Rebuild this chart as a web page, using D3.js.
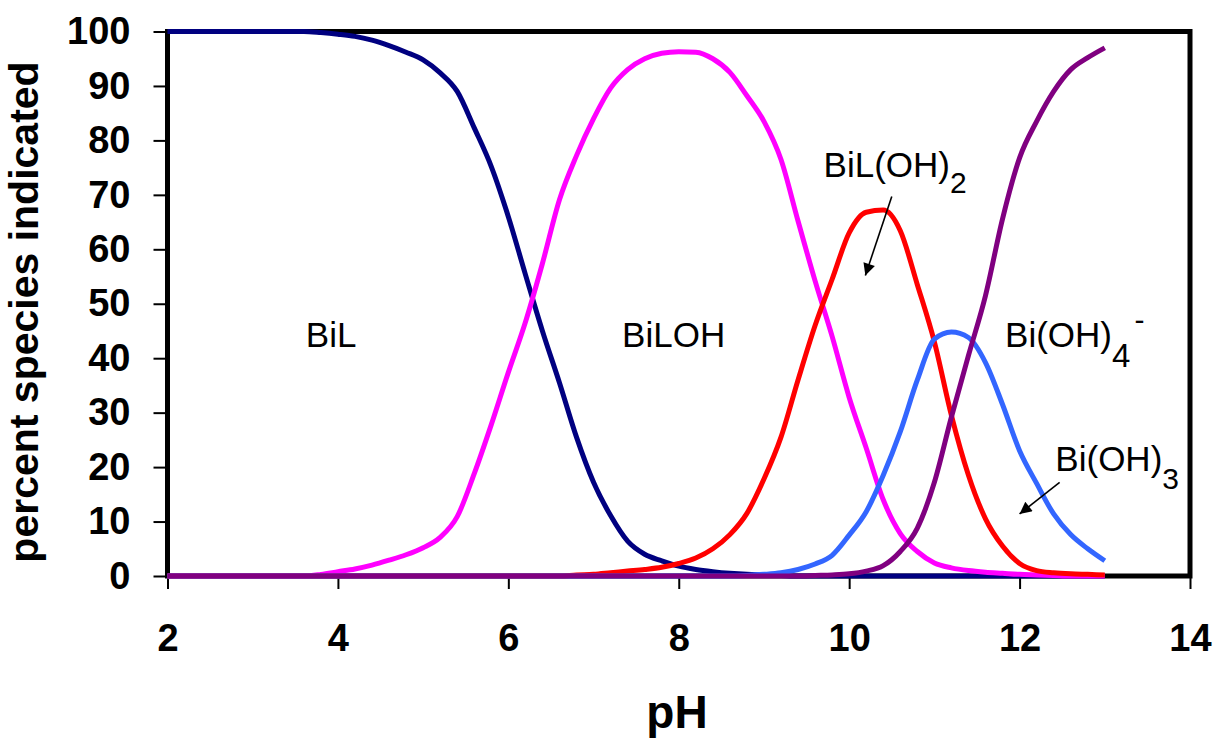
<!DOCTYPE html>
<html>
<head>
<meta charset="utf-8">
<script src="https://cdn.jsdelivr.net/npm/d3@7"></script>
<style>
    body { margin: 0; background: #ffffff; }
    svg  { display: block; }
    text { font-family: 'Liberation Sans', Arial, sans-serif; }
</style>
</head>
<body>
<div id="graph"></div>
<script>

var pH = [ 2.0, 2.2, 2.4, 2.6, 2.8, 3.0, 3.2, 3.4, 3.6, 3.8,
           4.0, 4.2, 4.4, 4.6, 4.8, 5.0, 5.2, 5.4, 5.6, 5.8,
           6.0, 6.2, 6.4, 6.6, 6.8, 7.0, 7.2, 7.4, 7.6, 7.8,
           8.0, 8.2, 8.4, 8.6, 8.8, 9.0, 9.2, 9.4, 9.6, 9.8,
          10.0,10.2,10.4,10.6,10.8,11.0,11.2,11.4,11.6,11.8,
          12.0,12.2,12.4,12.6,12.8,13.0 ];

// percent of each species
var BiL      = [ 100, 100, 100, 100, 100, 100, 100, 100, 100, 99.8,
                 99.5, 99.1, 98.4, 97.4, 96.2, 94.8, 92.4, 89, 82.3, 75.2,
                 66, 55.4, 45, 35.5, 25.5, 17.2, 11.1, 6.4, 4, 2.8,
                 1.8, 1.2, 0.8, 0.5, 0.3, 0.2, 0.1, 0, 0, 0,
                 0, 0, 0, 0, 0, 0, 0, 0, 0, 0,
                 0, 0, 0, 0, 0, 0 ];

var BiLOH    = [ 0, 0, 0, 0, 0, 0, 0, 0, 0, 0.3,
                 0.8, 1.3, 2.0, 2.9, 3.9, 5.2, 7.1, 10.9, 18.8, 27.8,
                 37.4, 46.6, 57.4, 69.1, 77.2, 84, 89.6, 93, 95, 96,
                 96.3, 96.2, 95, 92.5, 88.2, 83.5, 76.5, 65.2, 54.2, 44,
                 32.8, 23.5, 14, 7.8, 4.5, 2.4, 1.5, 1.0, 0.7, 0.5,
                 0.3, 0.2, 0.1, 0, 0, 0 ];

var BiLOH2   = [ 0, 0, 0, 0, 0, 0, 0, 0, 0, 0,
                 0, 0, 0, 0, 0, 0, 0, 0, 0, 0,
                 0, 0, 0, 0, 0.2, 0.3, 0.6, 0.9, 1.2, 1.6,
                 2.3, 3.3, 5.0, 7.6, 11.5, 17.8, 25.5, 36, 46, 54.5,
                 63, 66.8, 67.2, 63.4, 53.5, 43, 29.5, 18.5, 10.5, 5.5,
                 2.3, 1.0, 0.6, 0.4, 0.3, 0.2 ];

var BiOH3    = [ 0, 0, 0, 0, 0, 0, 0, 0, 0, 0,
                 0, 0, 0, 0, 0, 0, 0, 0, 0, 0,
                 0, 0, 0, 0, 0, 0, 0, 0, 0, 0,
                 0, 0, 0, 0, 0.1, 0.3, 0.6, 1.2, 2.2, 3.8,
                 7.5, 11.8, 18.5, 26.5, 36, 43.5, 44.8, 43.8, 39.2, 31.5,
                 23, 17, 11.4, 7.6, 5, 2.8 ];

var BiOH4    = [ 0, 0, 0, 0, 0, 0, 0, 0, 0, 0,
                 0, 0, 0, 0, 0, 0, 0, 0, 0, 0,
                 0, 0, 0, 0, 0, 0, 0, 0, 0, 0,
                 0, 0, 0, 0, 0, 0, 0, 0, 0.1, 0.2,
                 0.4, 0.9, 1.9, 4.5, 8.8, 17.2, 29.2, 40.5, 51.5, 65.6,
                 76.8, 83.5, 89, 93, 95.2, 97 ];

var xTicks = [ 2, 4, 6, 8, 10, 12, 14 ];
var yTicks = [ 0, 10, 20, 30, 40, 50, 60, 70, 80, 90, 100 ];


function D3Chart ()
{
    var width  = 1215;
    var height = 738;

    // plot frame in page pixels
    var frame = { left: 167.5, right: 1190, top: 31.5, bottom: 576 };

    // drawing order matters: later curves lie on top
    var series = [
        { values: BiL,    colour: '#000080' },
        { values: BiLOH,  colour: '#ff00ff' },
        { values: BiLOH2, colour: '#ff0000' },
        { values: BiOH3,  colour: '#3366ff' },
        { values: BiOH4,  colour: '#800080' }
    ];

    var svg = d3.select ('#graph').append ('svg')
                .attr ('width', width)
                .attr ('height', height);

    var xScale = d3.scaleLinear ()
                   .domain ( [ 2, 14 ] )
                   .range ( [ frame.left, frame.right ] );

    var yScale = d3.scaleLinear ()
                   .domain ( [ 0, 100 ] )
                   .range ( [ frame.bottom, frame.top ] );

    // axes
    var xAxis = d3.axisBottom (xScale)
                  .tickValues (xTicks)
                  .tickSize (13)
                  .tickPadding (35)
                  .tickFormat (d3.format ('d'));

    var yAxis = d3.axisLeft (yScale)
                  .tickValues (yTicks)
                  .tickSize (14)
                  .tickPadding (23)
                  .tickFormat (d3.format ('d'));

    var gx = svg.append ('g')
                .attr ('transform', 'translate(0,' + frame.bottom + ')')
                .call (xAxis);

    var gy = svg.append ('g')
                .attr ('transform', 'translate(' + frame.left + ',0)')
                .call (yAxis);

    [ gx, gy ].forEach (function (g)
    {
        g.select ('.domain').remove ();
        g.selectAll ('line').attr ('stroke', '#000').attr ('stroke-width', 2);
        g.selectAll ('text')
         .attr ('fill', '#000')
         .style ('font-family', "'Liberation Sans', Arial, sans-serif")
         .style ('font-size', '38px')
         .style ('font-weight', 'bold');
    });

    // frame round the plot
    svg.append ('rect')
       .attr ('x', frame.left)
       .attr ('y', frame.top)
       .attr ('width', frame.right - frame.left)
       .attr ('height', frame.bottom - frame.top)
       .attr ('fill', 'none')
       .attr ('stroke', '#000')
       .attr ('stroke-width', 5);

    // curves
    var line = d3.line ()
                 .x (function (d, i) { return xScale (pH[i]); })
                 .y (function (d)    { return yScale (d); })
                 .curve (d3.curveMonotoneX);

    svg.selectAll ('path.species')
       .data (series)
       .enter ()
       .append ('path')
       .attr ('class', 'species')
       .attr ('d', function (s) { return line (s.values); })
       .attr ('fill', 'none')
       .attr ('stroke', function (s) { return s.colour; })
       .attr ('stroke-width', 5)
       .attr ('stroke-linejoin', 'round');

    // axis titles
    svg.append ('text')
       .attr ('transform', 'translate(38,312) rotate(-90)')
       .attr ('text-anchor', 'middle')
       .style ('font-size', '41px')
       .style ('font-weight', 'bold')
       .text ('percent species indicated');

    svg.append ('text')
       .attr ('x', 677)
       .attr ('y', 728)
       .attr ('text-anchor', 'middle')
       .style ('font-size', '46px')
       .style ('font-weight', 'bold')
       .text ('pH');

    // species labels, placed in data coordinates
    function label (x, y, anchor)
    {
        return svg.append ('text')
                  .attr ('x', xScale (x))
                  .attr ('y', yScale (y))
                  .attr ('text-anchor', anchor)
                  .style ('font-size', '35px');
    }

    label (3.92, 42, 'middle').text ('BiL');
    label (7.94, 42, 'middle').text ('BiLOH');

    var t2 = label (9.70, 73.3, 'start');
    t2.append ('tspan').text ('BiL(OH)');
    t2.append ('tspan').attr ('dy', 16).style ('font-size', '30px').text ('2');

    var t4 = label (11.83, 42, 'start');
    t4.append ('tspan').text ('Bi(OH)');
    t4.append ('tspan').attr ('dy', 20).style ('font-size', '33px').text ('4');
    t4.append ('tspan').attr ('dy', -37).attr ('dx', 4).style ('font-size', '30px').text ('-');

    var t3 = label (12.42, 19.3, 'start');
    t3.append ('tspan').text ('Bi(OH)');
    t3.append ('tspan').attr ('dy', 18).style ('font-size', '30px').text ('3');

    // arrows
    svg.append ('defs').append ('marker')
       .attr ('id', 'head')
       .attr ('viewBox', '0 0 10 10')
       .attr ('refX', 10)
       .attr ('refY', 5)
       .attr ('markerWidth', 16)
       .attr ('markerHeight', 12)
       .attr ('markerUnits', 'userSpaceOnUse')
       .attr ('orient', 'auto')
       .append ('path')
       .attr ('d', 'M0,0 L10,5 L0,10 z')
       .attr ('fill', '#000');

    var arrows = [ [ 10.50, 69.7, 10.19, 55.2 ],
                   [ 12.47, 17.2, 12.00, 11.4 ] ];

    svg.selectAll ('line.arrow')
       .data (arrows)
       .enter ()
       .append ('line')
       .attr ('class', 'arrow')
       .attr ('x1', function (a) { return xScale (a[0]); })
       .attr ('y1', function (a) { return yScale (a[1]); })
       .attr ('x2', function (a) { return xScale (a[2]); })
       .attr ('y2', function (a) { return yScale (a[3]); })
       .attr ('stroke', '#000')
       .attr ('stroke-width', 1.6)
       .attr ('marker-end', 'url(#head)');
}

D3Chart ();

</script>
</body>
</html>
